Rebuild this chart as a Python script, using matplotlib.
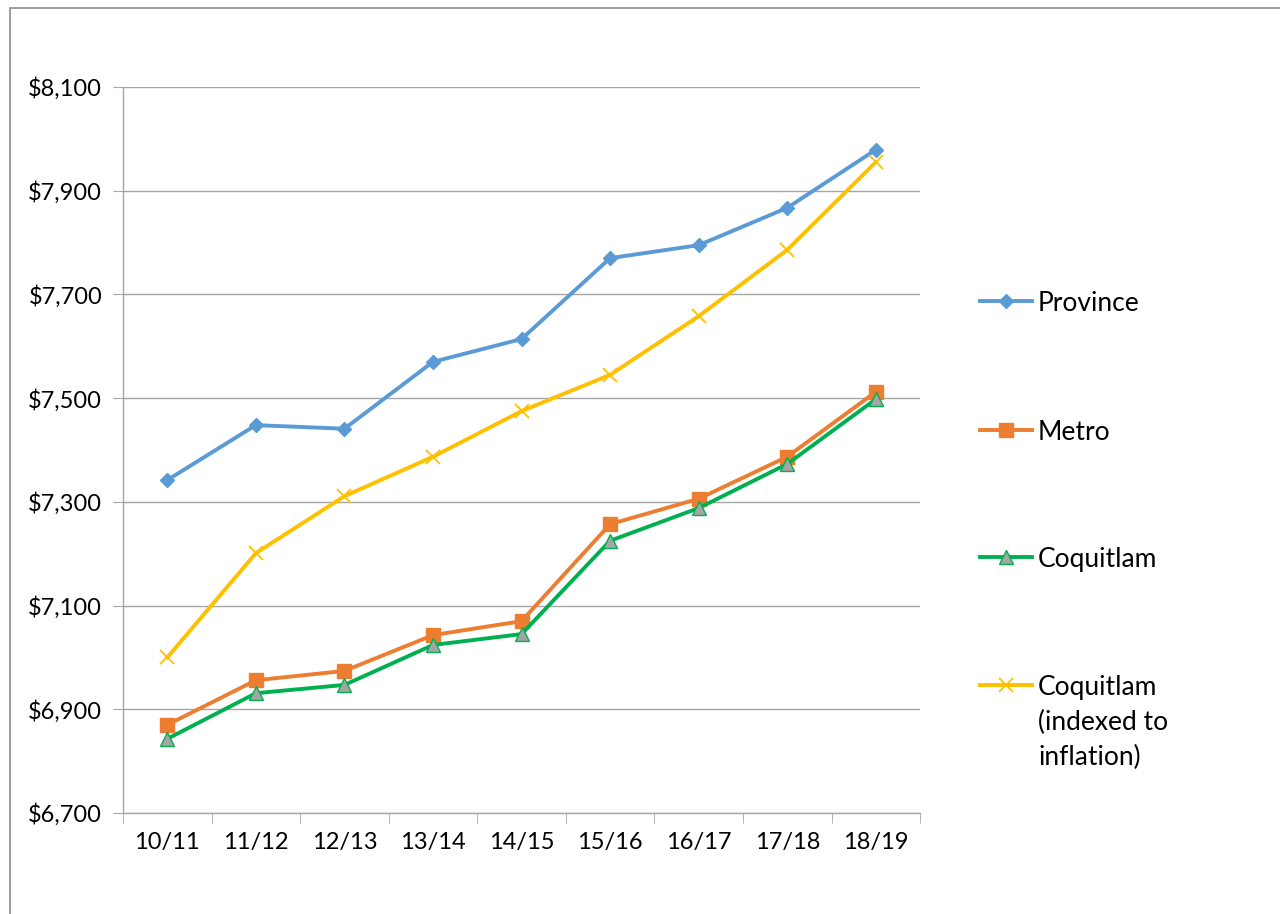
import matplotlib.pyplot as plt
from matplotlib.lines import Line2D
from matplotlib.patches import Rectangle
from matplotlib.ticker import FuncFormatter, FixedLocator

# school years
years = ['10/11', '11/12', '12/13', '13/14', '14/15', '15/16', '16/17', '17/18', '18/19']

# per-student values
province = [7342, 7448, 7441, 7570, 7614, 7770, 7795, 7867, 7979]
metro = [6870, 6956, 6974, 7043, 7070, 7257, 7306, 7387, 7512]
coquitlam = [6843, 6931, 6947, 7024, 7045, 7225, 7288, 7373, 7498]
coq_indexed = [7000, 7201, 7311, 7387, 7475, 7545, 7658, 7786, 7955]

plt.rcParams['font.family'] = ['Lato', 'DejaVu Sans']

fig = plt.figure(figsize=(12.8, 9.14), dpi=100)
ax = fig.add_axes([0.0961, 0.1105, 0.6227, 0.7943])

x = list(range(len(years)))
series = [
    ('Province', province, '#5B9BD5', dict(marker='D', markersize=7,
                                           markerfacecolor='#5B9BD5', markeredgecolor='#5B9BD5')),
    ('Metro', metro, '#ED7D31', dict(marker='s', markersize=10,
                                     markerfacecolor='#ED7D31', markeredgecolor='#ED7D31')),
    ('Coquitlam', coquitlam, '#00B050', dict(marker='^', markersize=10,
                                             markerfacecolor='#A5A5A5', markeredgecolor='#00B050')),
    ('Coquitlam\n(indexed to\ninflation)', coq_indexed, '#FFC000',
     dict(marker='x', markersize=10, markeredgewidth=1.3, markeredgecolor='#FFC000')),
]
for name, vals, col, mstyle in series:
    ax.plot(x, vals, color=col, linewidth=2.8, zorder=3, **mstyle)

ax.set_xlim(-0.5, len(years) - 0.5)
ax.set_ylim(6700, 8100)
ax.set_yticks(range(6700, 8101, 200))
ax.yaxis.set_major_formatter(FuncFormatter(lambda v, p: '${:,.0f}'.format(v)))
ax.set_xticks(x)
ax.set_xticklabels(years)
ax.xaxis.set_minor_locator(FixedLocator([i - 0.5 for i in range(len(years) + 1)]))
ax.tick_params(axis='x', which='major', length=0, pad=14, labelsize=17)
ax.tick_params(axis='x', which='minor', length=7, color='#A6A6A6')
ax.tick_params(axis='y', length=7, color='#A6A6A6', pad=8, labelsize=17)

ax.grid(axis='y', color='#A6A6A6', linewidth=1)
ax.set_axisbelow(True)
for s in ['top', 'right']:
    ax.spines[s].set_visible(False)
for s in ['left', 'bottom']:
    ax.spines[s].set_color('#A6A6A6')
    ax.spines[s].set_linewidth(1)

# legend drawn by hand so the handle lines up with the first text line
legend_y = [301, 430, 557, 685]
W, H = 1280, 914
for (name, vals, col, mstyle), yy in zip(series, legend_y):
    yf = 1 - yy / H
    fig.add_artist(Line2D([980 / W, 1032 / W], [yf, yf], transform=fig.transFigure,
                          color=col, linewidth=2.8))
    fig.add_artist(Line2D([1006 / W], [yf], transform=fig.transFigure,
                          linestyle='none', **mstyle))
    fig.text(1038 / W, yf + 10 / H, name, fontsize=19, va='top', ha='left',
             linespacing=1.5)

# outer chart border
fig.add_artist(Rectangle((10 / W, -0.1), 1.2, 1 - 8 / H + 0.1, transform=fig.transFigure,
                         fill=False, edgecolor='#8C8C8C', linewidth=1.2))

fig.savefig('out.png', dpi=100)
